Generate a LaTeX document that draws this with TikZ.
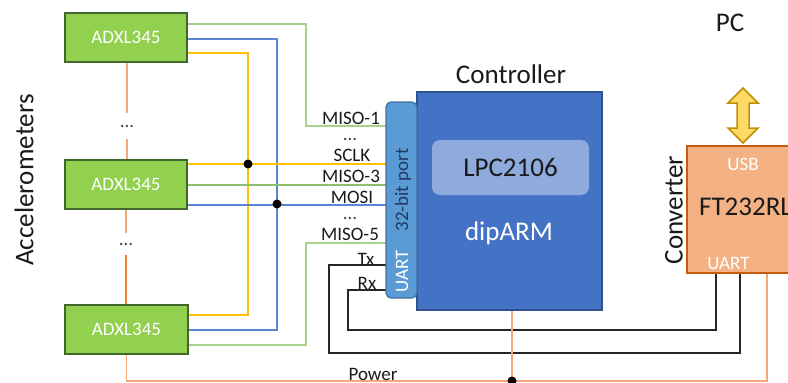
\documentclass[tikz,border=0pt]{standalone}
\usepackage{fontspec}
\setmainfont{Carlito}
\newcommand\smtxt{\fontsize{19}{22}\selectfont}
\newcommand\bgtxt{\fontsize{27}{31}\selectfont}
\definecolor{adxlF}{HTML}{92D050}
\definecolor{adxlB}{HTML}{41672A}
\definecolor{ctrlF}{HTML}{4472C4}
\definecolor{ctrlB}{HTML}{2F528F}
\definecolor{portF}{HTML}{5B9BD5}
\definecolor{portB}{HTML}{41719C}
\definecolor{portT}{HTML}{1F3864}
\definecolor{lpcF}{HTML}{8FAADC}
\definecolor{convF}{HTML}{F4B183}
\definecolor{convB}{HTML}{C55A11}
\definecolor{wg}{HTML}{A9D18E}
\definecolor{wgd}{HTML}{8CC06C}
\definecolor{wb}{HTML}{5A85D0}
\definecolor{wy}{HTML}{FFC000}
\definecolor{wo}{HTML}{F4A878}
\definecolor{wod}{HTML}{ED7D31}
\definecolor{arF}{HTML}{FFD966}
\definecolor{arB}{HTML}{BF9000}
\definecolor{txt}{HTML}{1A1A1A}
\begin{document}
\begin{tikzpicture}[x=1pt,y=-1pt,
  adxl/.style={draw=adxlB, fill=adxlF, line width=2pt, minimum width=122pt, minimum height=49pt, inner sep=0pt, text=white, font=\smtxt},
  wire/.style={line width=1.4pt},
  blk/.style={wire, draw=black!85},
  pw/.style={line width=1.6pt, draw=wo},
  jdot/.style={circle, fill=black, inner sep=0pt, minimum size=9pt},
  lbl/.style={font=\smtxt, inner sep=0pt, anchor=base, text=txt},
  dots/.style={font=\smtxt, inner sep=0pt, text=black!75},
  bigt/.style={font=\bgtxt, text=txt, inner sep=0pt},
]
\useasboundingbox (0,0) rectangle (788,383);
\clip (0,0) rectangle (788,383);

% coordinates
\coordinate (xg) at (306,0);
\coordinate (xb) at (277,0);
\coordinate (xy) at (248,0);
\coordinate (pj) at (512,381);

% main blocks (drawn first for anchors; wires drawn behind via layers order)
\node[adxl] (a1) at (126,37.5) {ADXL345};
\node[adxl] (a2) at (126,184.5) {ADXL345};
\node[adxl, minimum width=123pt] (a3) at (126.5,329.5) {ADXL345};

\node[draw=ctrlB, fill=ctrlF, line width=1.5pt, minimum width=185pt, minimum height=218pt] (ctrl) at (509.5,201) {};
\node[fill=lpcF, rounded corners=8pt, minimum width=157pt, minimum height=55pt, inner sep=0pt, font=\bgtxt, text=txt] (lpc) at (510.5,167.5) {LPC2106};
\node[font=\bgtxt, text=white, anchor=base, inner sep=0pt] (dip) at (509,240) {dipARM};
\node[bigt, anchor=base] (ctrlT) at (511,83) {Controller};

% wires
\begin{scope}[on background layer/.style={}]
\end{scope}
\draw[wire, wg] (a1.east |- 0,24) -| (xg |- 0,126) -- (386,126) coordinate (m1);
\draw[wire, wb] (a1.east |- 0,39) -| (xb |- 0,330) -- (a3.east |- 0,330);
\draw[wire, wy] (a1.east |- 0,53) -| (xy |- 0,315) -- (a3.east |- 0,315);
\draw[wire, wy] (a2.east |- 0,164) -- (386,164);
\draw[wire, wgd] (a2.east |- 0,185) -- (386,185);
\draw[wire, wb] (a2.east |- 0,205) -- (386,205);
\draw[wire, wg] (a3.east |- 0,345) -| (xg |- 0,243) -- (386,243);

% converter
\node[draw=convB, fill=convF, line width=2pt, minimum width=120pt, minimum height=127pt, inner sep=0pt] (conv) at (747,209.5) {};
\node[font=\smtxt, text=white, inner sep=0pt] (usb) at (743,164) {USB};
\node[bigt, anchor=base west] (ft) at (699,215) {FT232RL};
\node[font=\smtxt, text=white, inner sep=0pt] (cu) at (728.5,263) {UART};
\node[bigt, rotate=90] (convT) at (674,210) {Converter};
\node[bigt] (pc) at (730,23) {PC};
\node[bigt, rotate=90] (acc) at (24,180) {Accelerometers};

% Tx / Rx
\draw[blk] (386,265) -| (329,353) -| (740,0 |- conv.south);
\draw[blk] (386,290) -| (348,330) -| (716,0 |- conv.south);

% power
\draw[pw] (a3.south) |- (pj) -| (767,0 |- conv.south);
\draw[pw] (pj |- ctrl.south) -- (pj);

% orange chain between accelerometers
\node[dots, minimum height=26pt] (d1) at (127,126) {...};
\node[dots, minimum height=22pt] (d2) at (126,244) {...};
\draw[line width=1.6pt, wo] (a1.south -| d1) -- (d1.north);
\draw[line width=1.6pt, wo] (d1.south) -- (a2.north -| d1);
\draw[line width=1.6pt, wo] (a2.south -| d2) -- (d2.north);
\draw[line width=1.6pt, wod] (d2.south) -- (a3.north -| d2);

% redraw boxes on top of wire ends
\node[adxl] at (126,37.5) {ADXL345};
\node[adxl] at (126,184.5) {ADXL345};
\node[adxl, minimum width=123pt] at (126.5,329.5) {ADXL345};

% port
\node[draw=portB, fill=portF, line width=1.2pt, rounded corners=5pt, minimum width=31pt, minimum height=196pt, inner sep=0pt] (port) at (401.5,200) {};
\node[font=\smtxt, text=portT, rotate=90, inner sep=0pt] (pt) at (403,190) {32-bit port};
\node[font=\smtxt, text=white, rotate=90, inner sep=0pt] (pu) at (402,271.5) {UART};

% junctions
\node[jdot] (j1) at (xy |- 0,164) {};
\node[jdot] (j2) at (xb |- 0,204) {};
\node[jdot] (j3) at (pj) {};

% labels
\node[lbl] (l1) at (351,124) {MISO-1};
\node[dots] (l2) at (350,139) {...};
\node[lbl] (l3) at (352,161) {SCLK};
\node[lbl] (l4) at (351,182) {MISO-3};
\node[lbl] (l5) at (352,203) {MOSI};
\node[dots] (l6) at (350,218) {...};
\node[lbl] (l7) at (350,240) {MISO-5};
\node[lbl] (tx) at (366,265) {Tx};
\node[lbl] (rx) at (367,289) {Rx};
\node[lbl] (pwr) at (373,380) {Power};

% USB arrow
\draw[fill=arF, draw=arB, line width=1.5pt, line join=miter]
  (743,88) -- (758,103) -- (749,103) -- (749,128) -- (758,128) -- (743,143)
  -- (728,128) -- (737,128) -- (737,103) -- (728,103) -- cycle;
\end{tikzpicture}
\end{document}
